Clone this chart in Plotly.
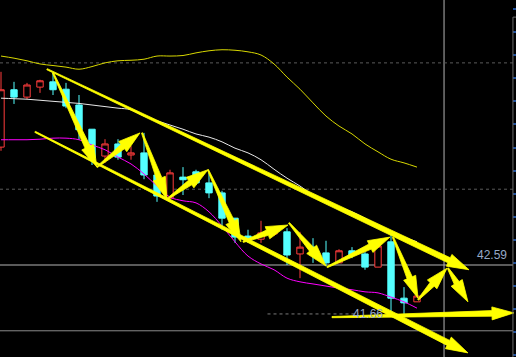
import numpy as np
import plotly.graph_objects as go

# ---- candle data (index positions, prices) ----
idx = list(range(33))
opens  = [44.83,45.92,45.78,45.97,46.07,45.93,45.63,45.17,44.66,44.89,44.68,44.72,44.30,43.86,44.26,44.36,44.15,
          43.96,43.48,43.14,43.08,43.18,43.22,42.80,42.93,42.82,42.63,42.86,42.80,42.55,43.03,41.96,41.89]
highs  = [46.26,46.07,46.05,46.11,46.24,46.05,45.82,45.17,44.98,44.98,44.85,45.10,44.34,44.40,44.45,44.40,44.34,
          44.00,43.48,43.26,43.43,43.26,43.29,43.22,43.10,43.05,42.89,42.93,42.84,43.07,43.20,42.17,42.00]
lows   = [44.76,45.65,45.74,45.86,45.82,45.57,44.97,44.49,44.53,44.59,44.59,44.22,43.79,43.84,43.92,44.11,43.86,
          43.26,43.01,43.01,43.01,43.14,42.59,42.34,42.63,42.57,42.63,42.72,42.50,42.55,41.70,41.66,41.89]
closes = [45.92,45.78,46.01,46.09,45.92,45.61,45.16,44.62,44.89,44.64,44.72,44.30,43.90,44.34,44.21,44.15,43.96,
          43.48,43.12,43.07,43.20,43.22,42.78,42.93,42.82,42.63,42.86,42.78,42.55,42.95,41.96,41.87,42.00]

# ---- moving averages ----
ma_white = [45.76,45.75,45.74,45.72,45.70,45.68,45.66,45.63,45.60,45.57,45.54,45.42,45.33,45.25,45.17,45.08,45.02,
            44.93,44.81,44.72,44.59,44.41,44.24,44.09,43.92,43.79,43.69,43.60,43.48,43.35,43.22,43.12,43.03]
ma_magenta = [44.97,44.97,44.97,44.98,45.00,45.00,44.97,44.87,44.78,44.64,44.51,44.32,44.09,43.88,43.81,43.77,43.60,
              43.33,43.03,42.76,42.61,42.50,42.34,42.27,42.23,42.19,42.15,42.12,42.08,42.06,41.98,41.89,41.77]
ma_yellow = [46.56,46.52,46.47,46.41,46.38,46.35,46.31,46.36,46.43,46.47,46.48,46.50,46.56,46.56,46.57,46.62,46.66,
             46.68,46.67,46.64,46.58,46.41,46.16,45.93,45.67,45.42,45.23,45.08,44.89,44.74,44.60,44.53,44.45]

# ---- hand-drawn arrows: tail -> head, in index/price units ----
arrow_tail_x = [4.00, 7.38, 10.85, 12.77, 15.92, 18.62, 22.15, 25.08, 30.15, 32.08, 34.38, 3.54, 2.62, 25.46]
arrow_tail_y = [46.24, 44.45, 45.10, 43.84, 44.40, 43.03, 43.39, 42.55, 43.12, 41.93, 42.53, 46.31, 45.12, 41.60]
arrow_head_x = [7.38, 10.69, 12.77, 15.92, 18.46, 22.08, 25.00, 29.92, 32.08, 34.31, 35.92, 36.00, 35.92, 39.46]
arrow_head_y = [44.45, 45.10, 43.84, 44.40, 43.03, 43.35, 42.57, 43.12, 41.96, 42.53, 41.89, 42.50, 40.92, 41.68]

# ---- reference levels ----
cross_price = 42.59
low_price = 41.66
grid_prices = [46.43, 44.03]
panel_line = 41.34
cross_x = 34.08

W_PX, H_PX = 516, 357
XMIN, XMAX = -1/13, 515/13
YMIN, YMAX = 40.842, 47.625
sx = W_PX / (XMAX - XMIN)      # px per index unit
sy = H_PX / (YMAX - YMIN)      # px per price unit

fig = go.Figure()

fig.add_trace(go.Scatter(x=idx, y=ma_yellow, mode="lines", line=dict(color="#d8d800", width=1, shape="spline"), hoverinfo="skip"))
fig.add_trace(go.Scatter(x=idx, y=ma_white, mode="lines", line=dict(color="#e8e8e8", width=1, shape="spline"), hoverinfo="skip"))
fig.add_trace(go.Scatter(x=idx, y=ma_magenta, mode="lines", line=dict(color="#ff00ff", width=1, shape="spline"), hoverinfo="skip"))

fig.add_trace(go.Candlestick(
    x=idx, open=opens, high=highs, low=lows, close=closes,
    increasing=dict(line=dict(color="#ff3c3c", width=1), fillcolor="#000000"),
    decreasing=dict(line=dict(color="#54ffff", width=1), fillcolor="#54ffff"),
    whiskerwidth=0, hoverinfo="skip",
))

# tapered arrows built as filled polygons (geometry in screen space, then mapped back to data)
HEAD_LEN, HEAD_HALF, SHAFT_T, SHAFT_H = 22.0, 6.5, 0.6, 2.8
for tx, ty, hx, hy in zip(arrow_tail_x, arrow_tail_y, arrow_head_x, arrow_head_y):
    T = np.array([tx * sx, -ty * sy])
    H = np.array([hx * sx, -hy * sy])
    d = H - T
    ln = np.hypot(*d)
    d = d / ln
    n = np.array([-d[1], d[0]])
    hl = min(HEAD_LEN, ln * 0.6)
    B = H - d * hl
    pts = [T + n * SHAFT_T, B + n * SHAFT_H, B + n * HEAD_HALF, H,
           B - n * HEAD_HALF, B - n * SHAFT_H, T - n * SHAFT_T, T + n * SHAFT_T]
    px = [p[0] / sx for p in pts]
    py = [-p[1] / sy for p in pts]
    fig.add_trace(go.Scatter(x=px, y=py, mode="lines", fill="toself", fillcolor="#ffff00",
                             line=dict(color="#ffff00", width=0.8), hoverinfo="skip"))

shapes = []
for g in grid_prices:
    shapes.append(dict(type="line", xref="x", yref="y", x0=XMIN, x1=39.38, y0=g, y1=g,
                       line=dict(color="#5a5a5a", width=1, dash="dot"), layer="below"))
shapes.append(dict(type="line", xref="x", yref="y", x0=XMIN, x1=39.38, y0=cross_price, y1=cross_price,
                   line=dict(color="#b4b4b4", width=1), layer="below"))
shapes.append(dict(type="line", xref="x", yref="y", x0=XMIN, x1=39.38, y0=panel_line, y1=panel_line,
                   line=dict(color="#8a8a8a", width=1), layer="below"))
shapes.append(dict(type="line", xref="x", yref="paper", x0=cross_x, x1=cross_x, y0=0, y1=1,
                   line=dict(color="#b4b4b4", width=1), layer="below"))
shapes.append(dict(type="line", xref="x", yref="y", x0=20.5, x1=27.5, y0=low_price, y1=low_price,
                   line=dict(color="#7a7a7a", width=1, dash="dot"), layer="below"))
shapes.append(dict(type="line", xref="x", yref="y", x0=39.38, x1=39.38, y0=YMIN, y1=47.30,
                   line=dict(color="#6a6a6a", width=1)))
shapes.append(dict(type="line", xref="x", yref="y", x0=39.38, x1=XMAX, y0=47.30, y1=47.30,
                   line=dict(color="#6a6a6a", width=1)))

annotations = [
    dict(x=39.08, y=cross_price, xref="x", yref="y", text="42.59", showarrow=False,
         xanchor="right", yanchor="bottom", yshift=1,
         font=dict(family="Liberation Sans, Arial", size=12, color="#96aac8")),
    dict(x=29.55, y=low_price, xref="x", yref="y", text="41.66", showarrow=False,
         xanchor="right", yanchor="middle",
         font=dict(family="Liberation Sans, Arial", size=12, color="#96aac8")),
]

fig.update_layout(
    width=W_PX, height=H_PX, margin=dict(l=0, r=0, t=0, b=0),
    paper_bgcolor="#000000", plot_bgcolor="#000000",
    showlegend=False, shapes=shapes, annotations=annotations,
    xaxis=dict(range=[XMIN, XMAX], visible=False, rangeslider=dict(visible=False), fixedrange=True),
    yaxis=dict(range=[YMIN, YMAX], showgrid=False, zeroline=False, showticklabels=False,
               side="right", ticks="inside", ticklen=3, tickcolor="#1f4f9a", tickwidth=2,
               tick0=47.017, dtick=0.439, showline=False, fixedrange=True),
)

fig.write_html("out.html")
